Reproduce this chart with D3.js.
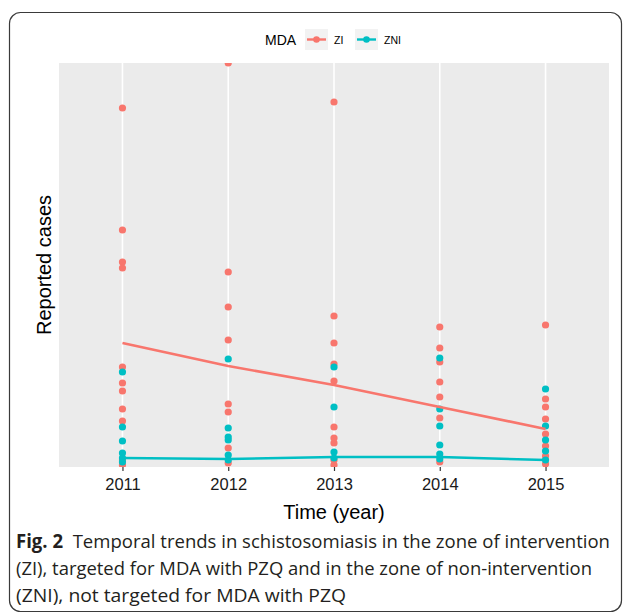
<!DOCTYPE html>
<html>
<head>
<meta charset="utf-8">
<script src="https://cdn.jsdelivr.net/npm/d3@7"></script>
<style>
  html, body { margin:0; padding:0; background:#fff; }
  svg text { font-family: "Liberation Sans", Arial, sans-serif; }
</style>
</head>
<body>
<svg id="chart" width="625" height="615"></svg>
<script>
// Data (reported cases per site)
const years = [2011, 2012, 2013, 2014, 2015];
const groups = ['ZI', 'ZNI'];
const ziCases = [
  [357, 235, 203, 197, 98, 82, 74, 56, 44, 5, 0],
  [402, 193, 158, 125, 61, 53, 17, 2],
  [363, 149, 122, 101, 84, 38, 27, 22, 5, 0],
  [138, 117, 103, 83, 68, 47, 3],
  [140, 66, 58, 46, 31, 19, 9, 1]
];
const zniCases = [
  [93, 38, 24, 12, 7, 3],
  [106, 37, 28, 25, 10, 5],
  [98, 58, 13, 7],
  [107, 56, 39, 20, 11, 6],
  [76, 39, 25, 14, 5]
];
// fitted trend per year
const ziTrend = [122, 99, 80, 58, 36];
const zniTrend = [7, 6, 8, 8, 5];
const yearTicks = ['2011', '2012', '2013', '2014', '2015'];

const colors = { ZI: '#F8766D', ZNI: '#00BFC4' };
const svg = d3.select('#chart');

// outer frame
svg.append('rect').attr('x', 9.5).attr('y', 12.5).attr('width', 612).attr('height', 599)
  .attr('rx', 11).attr('fill', 'none').attr('stroke', '#3a3a3a').attr('stroke-width', 1.2);

const panel = { left: 59, right: 609, top: 63, bottom: 467 };
const x = d3.scaleLinear().domain([2010.4, 2015.6]).range([panel.left, panel.right]);
const y = d3.scaleLinear().domain([0, 400]).range([465, 65]);

svg.append('defs').append('clipPath').attr('id', 'clip')
  .append('rect').attr('x', panel.left).attr('y', panel.top)
  .attr('width', panel.right - panel.left).attr('height', panel.bottom - panel.top);

svg.append('rect').attr('x', panel.left).attr('y', panel.top)
  .attr('width', panel.right - panel.left).attr('height', panel.bottom - panel.top)
  .attr('fill', '#EBEBEB');

const plot = svg.append('g').attr('clip-path', 'url(#clip)');

// vertical major gridlines
plot.selectAll('line.grid').data(years).join('line').attr('class', 'grid')
  .attr('x1', d => x(d)).attr('x2', d => x(d))
  .attr('y1', panel.top).attr('y2', panel.bottom)
  .attr('stroke', '#fff').attr('stroke-width', 1.6);

// x axis ticks + labels
const xAxis = d3.axisBottom(x).tickValues(years).tickFormat((d, i) => yearTicks[i])
  .tickSizeInner(4).tickSizeOuter(0).tickPadding(7);
const gx = svg.append('g').attr('transform', `translate(0,${panel.bottom})`).call(xAxis);
gx.select('.domain').remove();
gx.selectAll('.tick line').attr('stroke', '#333').attr('stroke-width', 1.2);
gx.selectAll('.tick text').attr('fill', '#1a1a1a').style('font-size', '16.5px')
  .style('font-family', '"Liberation Sans", Arial, sans-serif');

// points
function flat(arr){ const out=[]; arr.forEach((vals,i)=> vals.forEach(v=> out.push({year: years[i], v}))); return out; }
[['ZI', ziCases], ['ZNI', zniCases]].forEach(([g, arr]) => {
  plot.append('g').selectAll('circle').data(flat(arr)).join('circle')
    .attr('cx', d => x(d.year)).attr('cy', d => y(d.v)).attr('r', 3.6)
    .attr('fill', colors[g]);
});

// trend lines
const line = d3.line().x((d, i) => x(years[i])).y(d => y(d));
[['ZI', ziTrend], ['ZNI', zniTrend]].forEach(([g, arr]) => {
  plot.append('path').attr('d', line(arr)).attr('fill', 'none')
    .attr('stroke', colors[g]).attr('stroke-width', 2.6);
});

// axis titles
svg.append('text').attr('x', (panel.left + panel.right) / 2).attr('y', 519)
  .attr('text-anchor', 'middle').style('font-size', '20px').attr('fill', '#000').text('Time (year)');
svg.append('text').attr('transform', `translate(51,${(panel.top + panel.bottom) / 2}) rotate(-90)`)
  .attr('text-anchor', 'middle').style('font-size', '20px').attr('fill', '#000').text('Reported cases');

// legend
const lg = svg.append('g');
lg.append('text').attr('x', 265).attr('y', 45).style('font-size', '14px').attr('fill', '#000').text('MDA');
const keyX = { ZI: 305, ZNI: 355 };
groups.forEach(g => {
  const kx = keyX[g];
  lg.append('rect').attr('x', kx).attr('y', 29).attr('width', 23).attr('height', 21).attr('fill', '#F2F2F2');
  lg.append('line').attr('x1', kx + 2).attr('x2', kx + 21).attr('y1', 39.5).attr('y2', 39.5)
    .attr('stroke', colors[g]).attr('stroke-width', 2.4);
  lg.append('circle').attr('cx', kx + 11.5).attr('cy', 39.5).attr('r', 3.3).attr('fill', colors[g]);
  lg.append('text').attr('x', kx + 29).attr('y', 44).style('font-size', '10.5px').attr('fill', '#000').text(g);
});

// caption
const cap = [
  { bold: 'Fig. 2', text: 'Temporal trends in schistosomiasis in the zone of intervention', w: 594 },
  { bold: '', text: '(ZI), targeted for MDA with PZQ and in the zone of non-intervention', w: 576 },
  { bold: '', text: '(ZNI), not targeted for MDA with PZQ', w: 330 }
];
cap.forEach((c, i) => {
  const t = svg.append('text').attr('x', 16).attr('y', 548 + i * 27)
    .style('font-family', '"Open Sans", "Noto Sans", sans-serif').style('font-size', '19px')
    .attr('fill', '#231F20').attr('textLength', c.w).attr('lengthAdjust', 'spacingAndGlyphs');
  if (c.bold) {
    t.append('tspan').attr('font-weight', 'bold').text(c.bold);
    t.append('tspan').text('\u00a0 ' + c.text);
  } else {
    t.text(c.text);
  }
});
</script>
</body>
</html>
